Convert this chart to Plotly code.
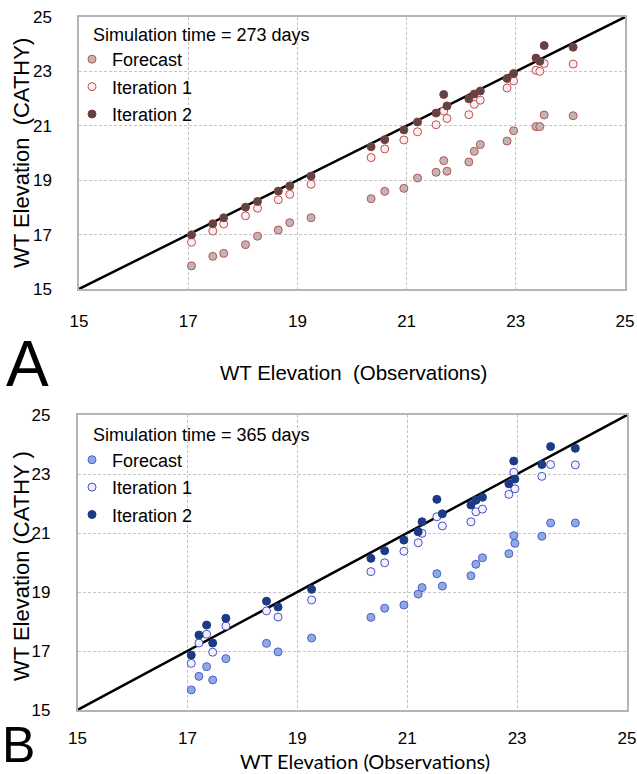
import plotly.graph_objects as go

# ---------------- data ----------------
# Panel A : simulation time = 273 days
a_obs = [17.06, 17.45, 17.65, 18.05, 18.27, 18.65, 18.86, 19.25, 20.35, 20.60, 20.95, 21.20,
         21.54, 21.68, 21.74, 22.14, 22.24, 22.35, 22.84, 22.96, 23.37, 23.44, 23.52, 24.05]
a_forecast = [15.85, 16.20, 16.31, 16.63, 16.94, 17.17, 17.44, 17.62, 18.32, 18.59, 18.70, 19.08,
              19.29, 19.72, 19.33, 19.67, 20.06, 20.31, 20.44, 20.82, 20.97, 20.97, 21.40, 21.37]
a_iter1 = [16.72, 17.13, 17.39, 17.69, 17.97, 18.28, 18.48, 18.85, 19.83, 20.15, 20.48, 20.78,
           21.04, 21.54, 21.27, 21.41, 21.79, 21.94, 22.39, 22.65, 23.04, 23.00, 23.29, 23.27]
a_iter2 = [16.99, 17.40, 17.62, 18.01, 18.22, 18.60, 18.79, 19.15, 20.23, 20.49, 20.85, 21.14,
           21.47, 22.15, 21.73, 21.99, 22.17, 22.28, 22.74, 22.92, 23.49, 23.37, 23.95, 23.89]

# Panel B : simulation time = 365 days
b_obs = [17.07, 17.21, 17.35, 17.46, 17.70, 18.44, 18.65, 19.26, 20.34, 20.59, 20.94, 21.20,
         21.27, 21.54, 21.64, 22.16, 22.25, 22.37, 22.85, 22.94, 22.96, 23.45, 23.61, 24.06]
b_forecast = [15.68, 16.14, 16.47, 16.02, 16.74, 17.26, 16.97, 17.44, 18.14, 18.45, 18.56, 18.93,
              19.15, 19.62, 19.20, 19.55, 19.94, 20.16, 20.30, 20.91, 20.65, 20.89, 21.34, 21.34]
b_iter1 = [16.58, 17.27, 17.57, 16.96, 17.85, 18.36, 18.15, 18.73, 19.69, 19.99, 20.38, 20.67,
           20.99, 21.55, 21.24, 21.38, 21.72, 21.81, 22.31, 23.06, 22.50, 22.92, 23.32, 23.31]
b_iter2 = [16.86, 17.54, 17.88, 17.27, 18.11, 18.69, 18.49, 19.09, 20.14, 20.40, 20.76, 21.04,
           21.38, 22.14, 21.65, 21.95, 22.11, 22.21, 22.67, 23.44, 22.83, 23.32, 23.93, 23.87]

one_to_one = [15, 25]
tick_vals = [15, 17, 19, 21, 23, 25]
series_names = ["Forecast", "Iteration 1", "Iteration 2"]
legend_titles = ["Simulation time = 273 days", "Simulation time = 365 days"]

# ---------------- styling ----------------
W, H = 637, 774
def px(x):
    return x / W
def py(y):
    return 1 - y / H

ARIAL = "Liberation Sans, Arial, sans-serif"
CALIBRI = "Lato, Open Sans, sans-serif"

a_styles = [
    dict(color="#bcb6b6", line=dict(color="#c0504d", width=1)),
    dict(color="#f8f0f0", line=dict(color="#c0504d", width=1)),
    dict(color="#5a4646", line=dict(color="#8c3a3a", width=1)),
]
b_styles = [
    dict(color="#8faadc", line=dict(color="#4a5fd8", width=1)),
    dict(color="#f2f2fa", line=dict(color="#4a4ad0", width=1)),
    dict(color="#1c3a85", line=dict(color="#1c3a85", width=1)),
]

fig = go.Figure()

panels = [
    ("x", "y", "legend", a_obs, [a_forecast, a_iter1, a_iter2], a_styles),
    ("x2", "y2", "legend2", b_obs, [b_forecast, b_iter1, b_iter2], b_styles),
]
for xa, ya, lg, obs, series, styles in panels:
    fig.add_trace(go.Scatter(x=one_to_one, y=one_to_one, mode="lines",
                             line=dict(color="black", width=2.5),
                             showlegend=False, xaxis=xa, yaxis=ya, hoverinfo="skip"))
    for i, (name, vals, st) in enumerate(zip(series_names, series, styles)):
        fig.add_trace(go.Scatter(
            x=obs, y=vals, mode="markers", name=name,
            marker=dict(size=8, symbol="circle", **st),
            xaxis=xa, yaxis=ya, legend=lg, legendgroup=lg + str(i)))

axis_common = dict(
    range=[15, 25], tickvals=tick_vals, ticks="", automargin=False,
    showgrid=True, gridcolor="#c4c4c4", griddash="3px,2px", gridwidth=1,
    showline=True, mirror=True, linecolor="#b4b4b4", linewidth=1.5,
    zeroline=False, tickfont=dict(family=ARIAL, size=17, color="black"),
)

legend_common = dict(
    xanchor="left", yanchor="top",
    font=dict(family=ARIAL, size=18, color="black"),
    bgcolor="rgba(0,0,0,0)", tracegroupgap=1, itemsizing="trace",
)


def ann(text, x, y, size, family=ARIAL, angle=0):
    return dict(text=text, x=px(x), y=py(y), xref="paper", yref="paper",
                xanchor="center", yanchor="middle", showarrow=False, textangle=angle,
                font=dict(family=family, size=size, color="black"))


def title_ann(text, x, y):
    return dict(text=text, x=px(x), y=py(y), xref="paper", yref="paper",
                xanchor="left", yanchor="middle", showarrow=False,
                font=dict(family=ARIAL, size=18, color="black"))


fig.update_layout(
    width=W, height=H,
    margin=dict(l=0, r=0, t=0, b=0, autoexpand=False),
    paper_bgcolor="white", plot_bgcolor="white",
    xaxis=dict(domain=[px(79), px(625)], anchor="y", ticklabelstandoff=16, **axis_common),
    yaxis=dict(domain=[py(289), py(17)], anchor="x", ticklabelstandoff=22, **axis_common),
    xaxis2=dict(domain=[px(77.5), px(627)], anchor="y2", ticklabelstandoff=12, **axis_common),
    yaxis2=dict(domain=[py(710), py(415)], anchor="x2", ticklabelstandoff=22, **axis_common),
    legend=dict(x=px(72), y=py(41), **legend_common),
    legend2=dict(x=px(72), y=py(441.5), **legend_common),
    annotations=[
        title_ann(legend_titles[0], 91, 35),
        title_ann(legend_titles[1], 91, 435),
        ann("A", 27, 364, 64),
        ann("B", 18, 745, 50),
        ann("WT Elevation  (Observations)", 353, 372, 20.5),
        ann("WT Elevation  (CATHY)", 21, 153, 22, angle=-90),
        ann("WT Elevation (Observations)", 365, 761, 20, family=CALIBRI),
        ann("WT Elevation (CATHY )", 21, 566, 22, angle=-90),
    ],
)

fig.write_html("out.html")
